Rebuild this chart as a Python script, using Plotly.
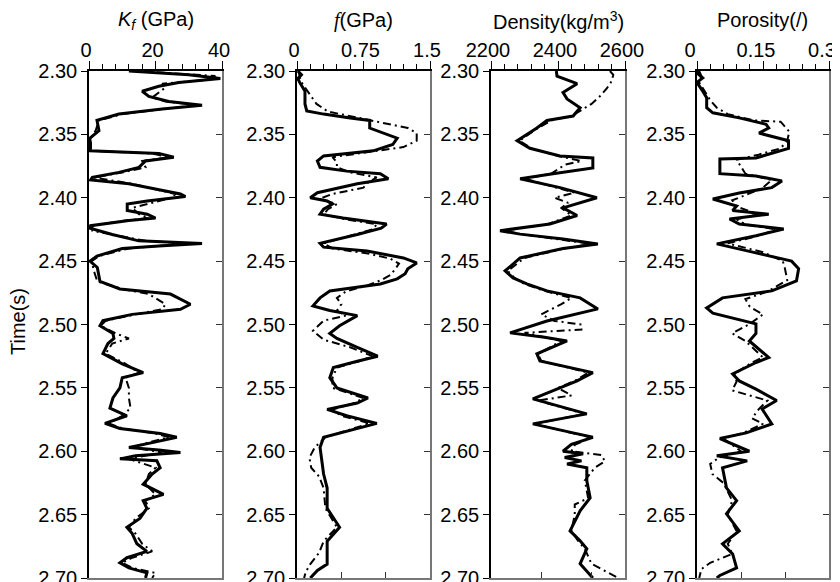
import plotly.graph_objects as go

# ---------------- data ----------------
kf_t = [2.300,2.303,2.306,2.309,2.312,2.316,2.320,2.324,2.327,2.330,2.334,2.339,2.347,2.353,2.363,2.365,2.368,2.371,2.376,2.380,2.384,2.386,2.389,2.397,2.399,2.4025,2.405,2.410,2.413,2.416,2.418,2.422,2.424,2.429,2.434,2.436,2.438,2.440,2.446,2.450,2.455,2.466,2.472,2.476,2.484,2.488,2.492,2.497,2.501,2.507,2.511,2.515,2.523,2.531,2.538,2.542,2.550,2.558,2.566,2.572,2.578,2.582,2.586,2.589,2.593,2.597,2.599,2.601,2.6036,2.606,2.6075,2.613,2.618,2.626,2.634,2.639,2.645,2.653,2.660,2.665,2.673,2.679,2.684,2.688,2.692,2.696,2.700]
kf_solid = [12,30,39.5,27,21,16,18,24,34,22,9,2.4,3,0.3,0.3,21,25.5,17,15,9,1,0.5,12,27.5,29,17.5,11.5,11.5,17.5,20,12,0.5,0.3,7,15,34,21,10,2.4,0.3,2.5,3.3,9.3,24.5,30.5,27.5,13,4.2,3.3,7.2,7.5,5.7,4.2,10,16.3,10,9.3,7.2,6.3,11.4,4.8,9.3,21.4,26.4,19.4,12,21,27.5,14,9.3,20.4,21.4,19,16.3,22.4,16.3,17.4,15.3,11.4,13,14.4,17.4,11.4,9.3,12,17.4,17]
kf_dt = [2.300,2.304,2.307,2.310,2.313,2.317,2.321,2.324,2.327,2.330,2.334,2.339,2.347,2.353,2.363,2.365,2.368,2.371,2.376,2.380,2.384,2.389,2.397,2.400,2.404,2.408,2.413,2.416,2.418,2.422,2.426,2.431,2.434,2.436,2.438,2.440,2.446,2.450,2.458,2.466,2.472,2.476,2.484,2.488,2.492,2.497,2.501,2.507,2.511,2.515,2.523,2.531,2.538,2.542,2.550,2.558,2.566,2.572,2.578,2.582,2.586,2.589,2.593,2.597,2.601,2.606,2.613,2.618,2.626,2.634,2.639,2.645,2.653,2.660,2.665,2.673,2.679,2.684,2.688,2.692,2.696,2.700]
kf_dash = [15,38,36,22,23,21,19,23,33,22,10,3,2,0.6,0.6,19,24,16,17,10,1.5,13,26,25,19,13,15,18,11,1,1,11,17,30,22,12,3,0.8,1.5,2.5,10,18,23,22,14,5,3.5,8,12,7,5,11,15,11,12,12,12.5,10,6,10,20,24,18,13,22,12,20,18,17,20,17,18,14,12,14,16,19,13,10,13,20,19]

f_t = [2.300,2.303,2.306,2.309,2.316,2.326,2.3315,2.334,2.337,2.339,2.345,2.349,2.353,2.358,2.363,2.367,2.371,2.376,2.379,2.381,2.385,2.389,2.396,2.400,2.4025,2.405,2.409,2.413,2.416,2.4207,2.424,2.429,2.436,2.439,2.442,2.4475,2.4514,2.456,2.460,2.464,2.468,2.4735,2.479,2.4853,2.489,2.493,2.501,2.507,2.511,2.518,2.525,2.529,2.534,2.542,2.550,2.558,2.562,2.567,2.572,2.578,2.584,2.589,2.597,2.608,2.618,2.629,2.645,2.660,2.671,2.689,2.694,2.700]
f_solid = [0.01,0.05,0.01,0.03,0.09,0.09,0.11,0.30,0.60,0.82,0.82,0.97,1.13,1.08,0.86,0.30,0.23,0.26,0.56,0.94,1.03,0.68,0.23,0.15,0.34,0.40,0.30,0.26,0.52,1.01,0.95,0.68,0.26,0.30,0.79,1.20,1.35,1.25,1.22,1.13,0.94,0.37,0.26,0.18,0.37,0.68,0.48,0.37,0.45,0.68,0.91,0.68,0.41,0.37,0.45,0.80,0.68,0.34,0.56,0.90,0.56,0.30,0.26,0.28,0.30,0.34,0.34,0.48,0.34,0.34,0.23,0.15]
f_dt = [2.300,2.305,2.310,2.316,2.322,2.326,2.332,2.337,2.341,2.345,2.349,2.355,2.360,2.364,2.368,2.372,2.376,2.380,2.384,2.388,2.392,2.397,2.401,2.405,2.409,2.413,2.417,2.421,2.425,2.430,2.436,2.440,2.444,2.448,2.452,2.457,2.461,2.465,2.469,2.474,2.479,2.484,2.489,2.493,2.497,2.505,2.512,2.518,2.525,2.529,2.534,2.542,2.550,2.558,2.562,2.567,2.572,2.578,2.584,2.589,2.597,2.605,2.613,2.620,2.629,2.645,2.660,2.671,2.680,2.689,2.695,2.700]
f_dash = [0.02,0.03,0.06,0.12,0.18,0.22,0.35,0.70,1.00,1.25,1.35,1.35,1.20,0.80,0.40,0.45,0.45,0.60,0.90,0.80,0.75,0.40,0.25,0.45,0.35,0.30,0.55,0.90,0.85,0.60,0.30,0.40,0.80,1.05,1.15,1.10,1.05,0.95,0.80,0.55,0.45,0.50,0.45,0.55,0.30,0.18,0.30,0.60,0.85,0.70,0.45,0.40,0.40,0.75,0.65,0.40,0.50,0.82,0.55,0.32,0.20,0.14,0.16,0.25,0.30,0.32,0.45,0.30,0.25,0.15,0.10,0.08]

rho_t = [2.300,2.304,2.310,2.317,2.322,2.329,2.3355,2.339,2.345,2.355,2.361,2.367,2.3686,2.3765,2.381,2.385,2.392,2.400,2.408,2.414,2.4207,2.426,2.4287,2.4325,2.4364,2.440,2.4475,2.4577,2.4633,2.468,2.4735,2.479,2.4877,2.4972,2.5066,2.510,2.513,2.5232,2.5287,2.538,2.5445,2.5587,2.5705,2.5784,2.5855,2.589,2.5945,2.600,2.602,2.605,2.6076,2.610,2.613,2.6233,2.6367,2.647,2.6628,2.6707,2.677,2.6888,2.700]
rho_solid = [2395,2397,2457,2415,2427,2466,2445,2367,2337,2278,2316,2406,2504,2504,2385,2287,2406,2516,2415,2457,2376,2227,2287,2415,2519,2415,2287,2242,2266,2307,2367,2466,2519,2367,2257,2360,2427,2337,2346,2504,2457,2325,2486,2325,2445,2504,2440,2415,2475,2420,2470,2427,2486,2486,2496,2466,2436,2466,2486,2466,2504]
rho_dt = [2.300,2.303,2.308,2.314,2.320,2.326,2.330,2.3355,2.339,2.345,2.355,2.361,2.367,2.371,2.374,2.381,2.385,2.392,2.396,2.400,2.404,2.408,2.414,2.4207,2.426,2.4287,2.4325,2.4364,2.440,2.446,2.4475,2.4577,2.4633,2.468,2.4735,2.479,2.484,2.488,2.492,2.4972,2.500,2.504,2.5066,2.513,2.5232,2.5287,2.538,2.5445,2.550,2.556,2.560,2.5705,2.5784,2.5855,2.589,2.595,2.600,2.603,2.608,2.613,2.623,2.637,2.642,2.650,2.6628,2.6707,2.677,2.6888,2.693,2.700]
rho_dash = [2555,2565,2560,2545,2525,2500,2475,2440,2380,2340,2285,2320,2400,2470,2420,2380,2300,2400,2450,2390,2430,2410,2440,2370,2240,2290,2400,2500,2420,2330,2300,2250,2270,2300,2360,2440,2410,2380,2350,2390,2470,2470,2300,2410,2340,2350,2490,2450,2400,2440,2340,2480,2330,2440,2500,2450,2440,2530,2540,2510,2480,2490,2450,2450,2440,2460,2480,2500,2530,2580]

phi_t = [2.300,2.3015,2.3055,2.309,2.316,2.321,2.329,2.333,2.337,2.342,2.345,2.349,2.355,2.361,2.3686,2.3694,2.381,2.3828,2.3867,2.392,2.3962,2.401,2.4065,2.410,2.413,2.4167,2.4207,2.4246,2.430,2.4364,2.4435,2.450,2.456,2.4656,2.4735,2.479,2.487,2.491,2.4995,2.507,2.513,2.526,2.530,2.539,2.5445,2.551,2.560,2.5667,2.5784,2.5855,2.590,2.600,2.6036,2.6076,2.613,2.6289,2.639,2.6494,2.6628,2.673,2.681,2.692,2.698,2.700]
phi_solid = [0.003,0.000,0.013,0.000,0.013,0.022,0.022,0.036,0.096,0.157,0.163,0.141,0.208,0.208,0.134,0.052,0.052,0.134,0.193,0.170,0.096,0.036,0.090,0.081,0.163,0.074,0.096,0.197,0.134,0.045,0.134,0.215,0.231,0.226,0.170,0.058,0.022,0.036,0.134,0.134,0.119,0.163,0.134,0.081,0.096,0.134,0.181,0.148,0.170,0.112,0.052,0.119,0.045,0.114,0.058,0.067,0.090,0.067,0.096,0.058,0.081,0.090,0.052,0.045]
phi_dt = [2.300,2.304,2.309,2.316,2.323,2.329,2.334,2.339,2.340,2.348,2.355,2.361,2.366,2.370,2.376,2.381,2.386,2.392,2.398,2.402,2.407,2.413,2.417,2.421,2.425,2.430,2.436,2.443,2.450,2.456,2.465,2.474,2.480,2.486,2.492,2.4995,2.507,2.513,2.526,2.530,2.539,2.545,2.552,2.560,2.567,2.574,2.5784,2.5855,2.590,2.600,2.605,2.610,2.618,2.625,2.639,2.650,2.663,2.673,2.681,2.688,2.693,2.700]
phi_dash = [0.005,0.010,0.005,0.018,0.030,0.045,0.070,0.130,0.190,0.210,0.205,0.190,0.140,0.090,0.100,0.110,0.170,0.150,0.110,0.080,0.090,0.140,0.090,0.110,0.180,0.140,0.070,0.150,0.195,0.200,0.205,0.160,0.110,0.120,0.150,0.120,0.080,0.110,0.150,0.125,0.085,0.090,0.080,0.160,0.140,0.125,0.150,0.105,0.060,0.100,0.050,0.030,0.035,0.060,0.080,0.070,0.090,0.070,0.080,0.030,0.010,0.005]

titles = ["<i>K</i><sub><i>f</i></sub> (GPa)",
          "<span style='font-family:Liberation Serif'><i>f</i></span>(GPa)",
          "Density(kg/m<sup>3</sup>)",
          "Porosity(/)"]
x_ranges = [[0, 40], [0, 1.5], [2200, 2600], [0, 0.3]]
x_tickvals = [[0, 20, 40], [0, 0.75, 1.5], [2200, 2400, 2600], [0, 0.15, 0.3]]
x_ticktext = [["0", "20", "40"], ["0", "0.75", "1.5"], ["2200", "2400", "2600"], ["0", "0.15", "0.3"]]
x_minor = [4, 0.15, 40, 0.03]
x_bottom_ticks = [[], [0.5, 1.0], [2350, 2500], [0.1, 0.2]]
y_tickvals = [2.30, 2.35, 2.40, 2.45, 2.50, 2.55, 2.60, 2.65, 2.70]
y_ticktext = ["2.30", "2.35", "2.40", "2.45", "2.50", "2.55", "2.60", "2.65", "2.70"]

solid_t = [kf_t, f_t, rho_t, phi_t]
solid_v = [kf_solid, f_solid, rho_solid, phi_solid]
dash_t = [kf_dt, f_dt, rho_dt, phi_dt]
dash_v = [kf_dash, f_dash, rho_dash, phi_dash]

# ---------------- layout ----------------
# page body has an 8px margin, so the figure is drawn 8px in from the top-left
OFF = 8
W, H = 840, 582
panel_px = [(89, 222), (297, 430), (491, 625), (697, 829)]
label_shift = [-3, -3, -3, -7]
top_px, bot_px = 71, 578
ydom = [1 - (bot_px - OFF) / H, 1 - (top_px - OFF) / H]
FONT = "Liberation Sans, Arial, sans-serif"

fig = go.Figure()
layout = dict(width=W, height=H, margin=dict(l=0, r=0, t=0, b=0),
              paper_bgcolor="white", plot_bgcolor="white", showlegend=False,
              font=dict(family=FONT, size=20, color="black"), template="none")
annotations = []

for i in range(4):
    xa = 2 * i + 1
    xb = 2 * i + 2
    xk1 = "xaxis" if xa == 1 else f"xaxis{xa}"
    yk1 = "yaxis" if xa == 1 else f"yaxis{xa}"
    xk2 = f"xaxis{xb}"
    yk2 = f"yaxis{xb}"
    xr1 = "x" if xa == 1 else f"x{xa}"
    yr1 = "y" if xa == 1 else f"y{xa}"
    xr2 = f"x{xb}"
    yr2 = f"y{xb}"
    dom = [(panel_px[i][0] - OFF) / W, (panel_px[i][1] - OFF) / W]

    layout[xk1] = dict(domain=dom, range=x_ranges[i], side="top", anchor=yr1,
                       tickmode="array", tickvals=x_tickvals[i], ticktext=x_ticktext[i],
                       ticks="outside", ticklen=8, tickwidth=1.2, tickcolor="black",
                       minor=dict(ticks="outside", ticklen=5, tickmode="linear", tick0=x_ranges[i][0],
                                  dtick=x_minor[i], tickcolor="black", showgrid=False),
                       showline=True, linecolor="black", linewidth=1.5,
                       showgrid=False, zeroline=False, automargin=False,
                       ticklabelstandoff=-4, ticklabelshift=label_shift[i],
                       ticklabeloverflow="allow",
                       tickfont=dict(family=FONT, size=20))
    layout[xk2] = dict(range=x_ranges[i], side="bottom", overlaying=xr1, anchor=yr1,
                       tickmode="array", tickvals=x_bottom_ticks[i],
                       ticks="inside", ticklen=6, tickcolor="#333",
                       showticklabels=False, showline=True, linecolor="#777", linewidth=1.5,
                       showgrid=False, zeroline=False, automargin=False)
    layout[yk1] = dict(domain=ydom, range=[2.70, 2.30], anchor=xr1,
                       tickmode="array", tickvals=y_tickvals, ticktext=y_ticktext,
                       ticks="outside", ticklen=6, tickwidth=1.2, tickcolor="black",
                       showline=True, linecolor="black", linewidth=1.5,
                       showgrid=False, zeroline=False, automargin=False,
                       ticklabeloverflow="allow",
                       tickfont=dict(family=FONT, size=20))
    layout[yk2] = dict(range=[2.70, 2.30], overlaying=yr1, side="right", anchor=xr1,
                       tickmode="array", tickvals=y_tickvals,
                       ticks="inside", ticklen=6, tickcolor="#333",
                       showticklabels=False, showline=True, linecolor="#777", linewidth=1.5,
                       showgrid=False, zeroline=False, automargin=False)

    fig.add_trace(go.Scatter(x=dash_v[i], y=dash_t[i], xaxis=xr2, yaxis=yr2, mode="lines",
                             line=dict(color="black", width=2, dash="8px,4px,2px,4px")))
    fig.add_trace(go.Scatter(x=solid_v[i], y=solid_t[i], xaxis=xr1, yaxis=yr1, mode="lines",
                             line=dict(color="black", width=3)))

    annotations.append(dict(text=titles[i], x=(dom[0] + dom[1]) / 2, y=1 - (20 - OFF) / H,
                            xref="paper", yref="paper", showarrow=False,
                            xanchor="center", yanchor="middle",
                            font=dict(family=FONT, size=20, color="black")))

annotations.append(dict(text="Time(s)", x=(18 - OFF) / W, y=1 - (322 - OFF) / H,
                        xref="paper", yref="paper",
                        showarrow=False, textangle=-90, xanchor="center", yanchor="middle",
                        font=dict(family=FONT, size=20, color="black")))
layout["annotations"] = annotations
fig.update_layout(**layout)
fig.write_html("out.html")
